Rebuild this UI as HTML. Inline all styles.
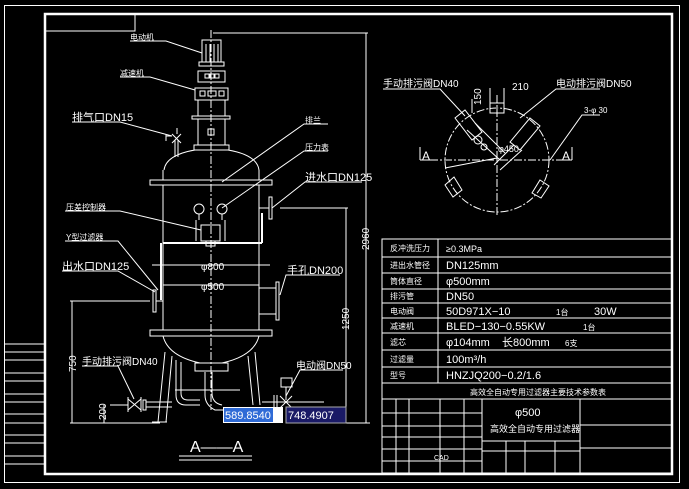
<!DOCTYPE html>
<html><head><meta charset="utf-8"><style>
html,body{margin:0;padding:0;background:#000;}
svg{display:block;}
text{font-family:"Liberation Sans","Noto Sans CJK SC",sans-serif;fill:#fff;}
</style></head><body>
<svg width="689" height="489" viewBox="0 0 689 489" xmlns="http://www.w3.org/2000/svg">
<rect width="689" height="489" fill="#000"/>
<g stroke="#fff" fill="none" stroke-width="1">
<!-- frames -->
<rect x="4.5" y="5.5" width="675" height="477"/>
<rect x="45" y="14" width="627" height="460" stroke-width="2.5"/>
<rect x="45" y="14" width="90" height="17"/>
<!-- left strip -->
<line x1="4" y1="344" x2="45" y2="344"/><line x1="4" y1="352" x2="45" y2="352"/>
<line x1="4" y1="360" x2="45" y2="360"/><line x1="4" y1="373" x2="45" y2="373"/>
<line x1="4" y1="381" x2="45" y2="381"/><line x1="4" y1="394" x2="45" y2="394"/>
<line x1="4" y1="402" x2="45" y2="402"/><line x1="4" y1="414" x2="45" y2="414"/>
<line x1="4" y1="423" x2="45" y2="423"/><line x1="4" y1="435" x2="45" y2="435"/>
<line x1="4" y1="443" x2="45" y2="443"/><line x1="4" y1="456" x2="45" y2="456"/>
<line x1="4" y1="464" x2="45" y2="464"/>

<!-- motor & drive -->
<rect x="202" y="40" width="19" height="22"/>
<line x1="206" y1="44" x2="206" y2="62"/><line x1="210" y1="44" x2="210" y2="62"/><line x1="214" y1="44" x2="214" y2="62"/><line x1="218" y1="44" x2="218" y2="62"/>
<rect x="199" y="62" width="25" height="4"/>
<rect x="198" y="71" width="27" height="11"/>
<rect x="205" y="74" width="4" height="4"/><rect x="210" y="74" width="4" height="4"/><rect x="215" y="74" width="4" height="4"/>
<rect x="195" y="88" width="33" height="12"/>
<rect x="200" y="91" width="5" height="5"/><rect x="208" y="91" width="8" height="5"/><rect x="219" y="91" width="5" height="5"/>
<line x1="198" y1="100" x2="198" y2="116"/><line x1="225" y1="100" x2="225" y2="116"/>
<rect x="192" y="116" width="38" height="3"/>
<line x1="198" y1="119" x2="198" y2="145"/><line x1="225" y1="119" x2="225" y2="145"/>
<rect x="208" y="129" width="6" height="6"/>
<rect x="194" y="145" width="35" height="5"/>
<!-- vent valve -->
<line x1="175" y1="140" x2="175" y2="157"/><line x1="178" y1="140" x2="178" y2="157"/>
<path d="M172 134 L181 143 M181 134 L172 143"/><line x1="177" y1="128" x2="177" y2="134"/>
<line x1="166" y1="136" x2="172" y2="136"/><line x1="166" y1="134" x2="166" y2="141"/>
<!-- dome -->
<path d="M164 170 Q166 155 195 150 L228 150 Q257 155 259 170"/>
<rect x="150" y="180" width="122" height="5"/>
<line x1="163" y1="170" x2="163" y2="180"/><line x1="259" y1="170" x2="259" y2="180"/>
<!-- body -->
<line x1="163" y1="185" x2="163" y2="330"/><line x1="259" y1="185" x2="259" y2="330"/>
<rect x="150" y="330" width="122" height="6"/>
<path d="M163 336 Q168 356 200 363 L222 363 Q254 356 259 336"/>
<rect x="195" y="363" width="33" height="8"/>
<!-- gauges -->
<circle cx="199" cy="209" r="5"/><circle cx="222" cy="209" r="5"/>
<line x1="199" y1="214" x2="199" y2="220"/><line x1="222" y1="214" x2="222" y2="220"/>
<line x1="196" y1="220" x2="196" y2="241"/><line x1="225" y1="220" x2="225" y2="241"/>
<rect x="201" y="225" width="19" height="16"/>
<rect x="206" y="241" width="9" height="5"/>
<line x1="163" y1="243" x2="262" y2="243" stroke-width="2"/>
<line x1="262" y1="213" x2="262" y2="243" stroke-width="2"/>
<line x1="161" y1="243" x2="161" y2="300" stroke-width="2"/>
<!-- DN125 top -->
<rect x="269" y="197" width="3" height="22"/><line x1="259" y1="208" x2="269" y2="208"/>
<line x1="280" y1="208" x2="348" y2="208"/>
<!-- DN125 left -->
<rect x="153" y="290" width="3" height="22"/><line x1="156" y1="301" x2="163" y2="301"/>
<!-- DN200 right -->
<line x1="259" y1="288" x2="276" y2="288"/><line x1="259" y1="314" x2="276" y2="314"/>
<rect x="276" y="282" width="3" height="38"/>
<!-- diameter dims -->
<line x1="152" y1="265" x2="270" y2="265"/>
<line x1="163" y1="285" x2="259" y2="285"/>
<!-- legs -->
<path d="M165 352 L158 422 M172 356 L166 422"/>
<path d="M248 356 L253 405 M255 352 L260 405"/>
<path d="M152 422 L167 422"/>
<path d="M176 360 L176 395 Q176 405 186 405 L200 405 M181 362 L181 393 Q181 400 188 400 L200 400"/>
<path d="M205 372 L205 395 Q205 405 215 410 L225 410 M212 372 L212 393 Q212 403 222 405"/>
<line x1="175" y1="390" x2="240" y2="390"/>
<!-- bottom valve DN40 -->
<path d="M128 399 L141 410 M128 410 L141 399"/><line x1="128" y1="397" x2="128" y2="412"/><line x1="141" y1="397" x2="141" y2="412"/>
<rect x="143" y="400" width="3" height="10"/>
<line x1="110" y1="405" x2="128" y2="405"/><line x1="146" y1="402" x2="172" y2="402"/><line x1="146" y1="407" x2="172" y2="407"/>
<!-- DN50 valve -->
<rect x="281" y="378" width="11" height="9"/>
<line x1="286" y1="387" x2="286" y2="400"/>
<path d="M280 396 L292 408 M280 408 L292 396"/>
<line x1="262" y1="402" x2="324" y2="402"/>
<line x1="274" y1="395" x2="274" y2="410"/><line x1="277" y1="395" x2="277" y2="410"/>
<!-- dimension lines -->
<line x1="213" y1="33" x2="368" y2="33"/>
<line x1="366" y1="33" x2="366" y2="423"/>
<line x1="346" y1="208" x2="346" y2="423"/>
<line x1="340" y1="423" x2="370" y2="423"/>
<line x1="70" y1="301" x2="150" y2="301"/>
<line x1="72" y1="301" x2="72" y2="423"/>
<line x1="70" y1="423" x2="160" y2="423"/>
<line x1="104" y1="405" x2="104" y2="423"/>
<!-- leaders -->
<polyline points="130,41 166,41 202,53"/>
<polyline points="120,77 150,77 195,90"/>
<polyline points="72,122 120,122 172,136"/>
<polyline points="328,124 304,124 222,182"/>
<polyline points="328,151 304,151 222,208"/>
<polyline points="362,182 305,182 272,208"/>
<polyline points="65,211 120,211 201,230"/>
<polyline points="65,241 118,241 158,290"/>
<polyline points="62,271 118,271 155,292"/>
<polyline points="340,275 286,275 280,295"/>
<polyline points="82,366 118,366 134,399"/>
<polyline points="343,370 300,370 286,396"/>
<!-- A--A underline -->
<line x1="179" y1="456" x2="252" y2="456"/><line x1="179" y1="460" x2="252" y2="460"/>
</g>
<g stroke="#fff" fill="none" stroke-width="1" stroke-dasharray="8,2,2,2">
<line x1="211" y1="30" x2="211" y2="410"/>
<line x1="497" y1="95" x2="497" y2="215"/>
<line x1="430" y1="160" x2="565" y2="160"/>
<circle cx="497" cy="160" r="52"/>
</g>
<!-- top view -->
<g stroke="#fff" fill="none" stroke-width="1">
<rect x="490" y="103" width="14" height="10"/>
<line x1="490" y1="88" x2="490" y2="103"/><line x1="504" y1="88" x2="504" y2="103"/>
<line x1="472" y1="113" x2="472" y2="99"/>
<path d="M455 118 L465 110 L482 132 L472 140 Z"/>
<path d="M467 130 L500 160 M475 123 L505 153"/>
<path d="M530 118 L540 126 L520 150 L510 142 Z"/>
<path d="M514 145 L494 165 M522 150 L500 170"/>
<circle cx="478" cy="140" r="4"/><circle cx="484" cy="147" r="3"/>
<path d="M445 185 L454 177 L462 190 L453 197 Z"/>
<path d="M540 180 L549 186 L541 198 L532 193 Z"/>
<line x1="445" y1="168" x2="497" y2="158"/>
<line x1="420" y1="147" x2="420" y2="160"/><line x1="420" y1="160" x2="432" y2="160"/>
<line x1="572" y1="147" x2="572" y2="160"/><line x1="560" y1="160" x2="572" y2="160"/>
<polyline points="383,89 440,89 465,116"/>
<polyline points="600,89 556,89 520,118"/>
<polyline points="600,115 582,115 550,160"/>
</g>
<!-- table -->
<g stroke="#fff" fill="none" stroke-width="1">
<rect x="382" y="239" width="290" height="234"/>
<line x1="438" y1="239" x2="438" y2="383"/>
<line x1="382" y1="257" x2="672" y2="257"/><line x1="382" y1="273" x2="672" y2="273"/>
<line x1="382" y1="289" x2="672" y2="289"/><line x1="382" y1="303" x2="672" y2="303"/>
<line x1="382" y1="318" x2="672" y2="318"/><line x1="382" y1="333" x2="672" y2="333"/>
<line x1="382" y1="350" x2="672" y2="350"/><line x1="382" y1="367" x2="672" y2="367"/>
<line x1="382" y1="383" x2="672" y2="383"/><line x1="382" y1="399" x2="672" y2="399"/>
<line x1="482" y1="399" x2="482" y2="473"/><line x1="580" y1="399" x2="580" y2="473"/>
<line x1="580" y1="425" x2="672" y2="425"/><line x1="580" y1="448" x2="672" y2="448"/>
<line x1="482" y1="441" x2="580" y2="441"/><line x1="482" y1="451" x2="580" y2="451"/>
<line x1="382" y1="413" x2="482" y2="413"/><line x1="382" y1="426" x2="482" y2="426"/>
<line x1="382" y1="437" x2="482" y2="437"/><line x1="382" y1="449" x2="482" y2="449"/>
<line x1="382" y1="461" x2="482" y2="461"/>
<line x1="396" y1="399" x2="396" y2="473"/><line x1="409" y1="399" x2="409" y2="473"/>
<line x1="440" y1="399" x2="440" y2="473"/><line x1="464" y1="399" x2="464" y2="473"/>
<line x1="506" y1="441" x2="506" y2="473"/><line x1="525" y1="441" x2="525" y2="473"/>
<line x1="555" y1="441" x2="555" y2="473"/>
</g>
<!-- coordinate boxes -->
<rect x="223" y="407" width="60" height="16" fill="#fff"/>
<rect x="224" y="408" width="49" height="14" fill="#2f6bd6"/>
<rect x="286" y="407" width="60" height="16" fill="#1a1a66" stroke="#aaa"/>
<text x="225" y="419" font-size="11" font-family="Liberation Mono">589.8540</text>
<text x="288" y="419" font-size="11" font-family="Liberation Mono">748.4907</text>
<!-- labels -->
<g font-size="8">
<text x="130" y="40">电动机</text><text x="120" y="76">减速机</text>
<text x="72" y="121" font-size="11">排气口DN15</text>
<text x="305" y="123">排兰</text><text x="305" y="150">压力表</text>
<text x="305" y="181" font-size="11">进水口DN125</text>
<text x="66" y="210">压差控制器</text><text x="66" y="240">Y型过滤器</text>
<text x="62" y="270" font-size="11">出水口DN125</text>
<text x="287" y="274" font-size="11">手孔DN200</text>
<text x="82" y="365" font-size="10">手动排污阀DN40</text>
<text x="296" y="369" font-size="10">电动阀DN50</text>
<text x="383" y="87" font-size="10">手动排污阀DN40</text>
<text x="556" y="87" font-size="10">电动排污阀DN50</text>
<text x="584" y="113">3-φ 30</text>
<text x="512" y="90" font-size="10">210</text>
<text x="498" y="152" font-size="9">φ450</text>
<text x="201" y="270" font-size="10">φ800</text><text x="201" y="290" font-size="10">φ500</text>
<text x="190" y="452" font-size="16">A——A</text>
<text x="422" y="160" font-size="12">A</text><text x="562" y="160" font-size="12">A</text>
</g>
<g font-size="10">
<text transform="translate(369,250) rotate(-90)">2960</text>
<text transform="translate(349,330) rotate(-90)">1250</text>
<text transform="translate(76,372) rotate(-90)">750</text>
<text transform="translate(106,420) rotate(-90)">200</text>
<text transform="translate(481,105) rotate(-90)">150</text>
</g>
<g font-size="8">
<text x="390" y="251">反冲洗压力</text><text x="390" y="268">进出水管径</text><text x="390" y="284">筒体直径</text>
<text x="390" y="299">排污管</text><text x="390" y="314">电动阀</text><text x="390" y="329">减速机</text>
<text x="390" y="345">滤芯</text><text x="390" y="362">过滤量</text><text x="390" y="378">型号</text>
</g>
<g font-size="11">
<text x="446" y="252" font-size="9">≥0.3MPa</text>
<text x="446" y="269">DN125mm</text><text x="446" y="285">φ500mm</text><text x="446" y="300">DN50</text>
<text x="446" y="315">50D971X−10</text><text x="556" y="315" font-size="8">1台</text><text x="594" y="315">30W</text>
<text x="446" y="330">BLED−130−0.55KW</text><text x="583" y="330" font-size="8">1台</text>
<text x="446" y="346">φ104mm</text><text x="502" y="346">长800mm</text><text x="565" y="346" font-size="8">6支</text>
<text x="446" y="363">100m³/h</text><text x="446" y="379">HNZJQ200−0.2/1.6</text>
<text x="470" y="395" font-size="8">高效全自动专用过滤器主要技术参数表</text>
<text x="515" y="416">φ500</text>
<text x="490" y="432" font-size="9">高效全自动专用过滤器</text>
<text x="434" y="460" font-size="7">CAD</text>
</g>
</svg>
</body></html>
